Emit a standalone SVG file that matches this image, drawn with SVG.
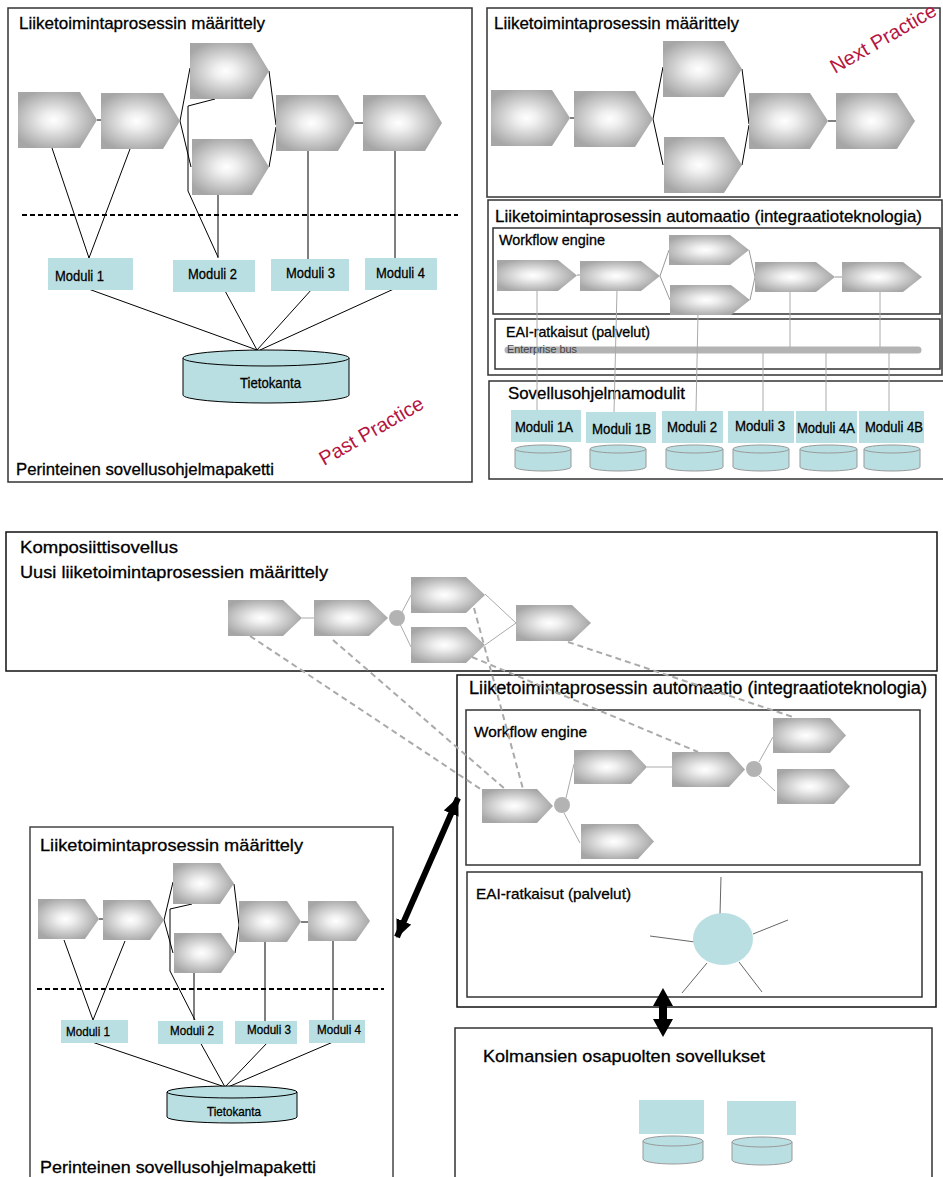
<svg xmlns="http://www.w3.org/2000/svg" width="943" height="1177" viewBox="0 0 943 1177">
<defs>
<radialGradient id="cg" cx="0.45" cy="0.5" r="0.55">
<stop offset="0" stop-color="#ffffff"/>
<stop offset="0.25" stop-color="#efefef"/>
<stop offset="1" stop-color="#a6a6a6"/>
</radialGradient>
<marker id="ah" viewBox="0 0 18 16" refX="17" refY="8" markerWidth="18" markerHeight="16" markerUnits="userSpaceOnUse" orient="auto-start-reverse">
<path d="M0,0 L18,8 L0,16 z" fill="#000"/>
</marker>
</defs>
<style>
.panel{fill:none;stroke:#333;stroke-width:1.5}
.chev{fill:url(#cg)}
.mod{fill:#B9DFE2}
.db{fill:#B9DFE2;stroke:#000;stroke-width:1}
.dbg{fill:#B9DFE2;stroke:#999;stroke-width:1}
.t{font-family:"Liberation Sans",Arial,sans-serif;fill:#000;stroke:#000;stroke-width:0.3}
.ln{stroke:#000;stroke-width:1;fill:none}
.gl{stroke:#999;stroke-width:1;fill:none}
.gl2{stroke:#aaa;stroke-width:1;fill:none}
.sp{stroke:#666;stroke-width:1;fill:none}
.dash{stroke:#aaa;stroke-width:2;stroke-dasharray:6 4;fill:none}
.bd{stroke:#000;stroke-width:2;stroke-dasharray:5 3;fill:none}
.red{font-family:"Liberation Sans",Arial,sans-serif;fill:#B5153F;font-size:20px}
.dot{fill:#b3b3b3}
</style>
<rect width="943" height="1177" fill="#fff"/>

<!-- ===== Top-left panel ===== -->
<g id="panel-past">
<rect class="panel" x="8" y="8" width="464" height="474"/>
<text class="t" x="19" y="29" font-size="17" textLength="246" lengthAdjust="spacingAndGlyphs">Liiketoimintaprosessin määrittely</text>
<text class="t" x="16" y="475" font-size="17" textLength="258" lengthAdjust="spacingAndGlyphs">Perinteinen sovellusohjelmapaketti</text>
<text class="red" x="324" y="466" transform="rotate(-30 324 466)" textLength="117" lengthAdjust="spacingAndGlyphs">Past Practice</text>
</g>
<g id="tl-connectors">
<line class="bd" x1="22" y1="215" x2="458" y2="215"/>
<line class="ln" x1="97" y1="120" x2="101" y2="120"/>
<line class="ln" x1="180" y1="121" x2="190" y2="68"/>
<line class="ln" x1="180" y1="121" x2="191" y2="167"/>
<line class="ln" x1="269" y1="71" x2="276" y2="125"/>
<line class="ln" x1="269" y1="167" x2="276" y2="127"/>
<line class="ln" x1="355" y1="123" x2="363" y2="123"/>
<polyline class="ln" points="215,99 188,106 188,191 218,257"/>
<line class="ln" x1="218" y1="195" x2="218" y2="258"/>
<line class="ln" x1="52" y1="148" x2="89" y2="258"/>
<line class="ln" x1="130" y1="149" x2="89" y2="258"/>
<line class="ln" x1="308" y1="151" x2="308" y2="259"/>
<line class="ln" x1="395" y1="151" x2="395" y2="258"/>
<line class="ln" x1="83" y1="287" x2="257" y2="350"/>
<line class="ln" x1="224" y1="289" x2="257" y2="350"/>
<line class="ln" x1="312" y1="289" x2="257" y2="350"/>
<line class="ln" x1="396" y1="288" x2="260" y2="350"/>
</g>
<g id="tl-chevrons">
<polygon class="chev" points="18,92 80,92 97,120 80,148 18,148"/>
<polygon class="chev" points="101,93 163,93 180,121 163,149 101,149"/>
<polygon class="chev" points="190,43 252,43 269,71 252,99 190,99"/>
<polygon class="chev" points="192,139 252,139 269,167 252,195 192,195"/>
<polygon class="chev" points="276,95 338,95 355,123 338,151 276,151"/>
<polygon class="chev" points="363,95 425,95 442,123 425,151 363,151"/>
</g>
<g id="tl-modules">
<rect class="mod" x="48" y="258" width="85" height="32"/>
<text class="t" x="55" y="281" font-size="15" textLength="49" lengthAdjust="spacingAndGlyphs">Moduli 1</text>
<rect class="mod" x="173" y="260" width="82" height="32"/>
<text class="t" x="188" y="279" font-size="15" textLength="49" lengthAdjust="spacingAndGlyphs">Moduli 2</text>
<rect class="mod" x="271" y="259" width="78" height="32"/>
<text class="t" x="286" y="278" font-size="15" textLength="49" lengthAdjust="spacingAndGlyphs">Moduli 3</text>
<rect class="mod" x="365" y="258" width="72" height="32"/>
<text class="t" x="376" y="278" font-size="15" textLength="49" lengthAdjust="spacingAndGlyphs">Moduli 4</text>
</g>
<g id="tl-db">
<path class="db" d="M183,358 L183,395 A83,8 0 0 0 349,395 L349,358"/>
<ellipse class="db" cx="266" cy="358" rx="83" ry="8"/>
<text class="t" x="240" y="388" font-size="15" textLength="61" lengthAdjust="spacingAndGlyphs">Tietokanta</text>
</g>

<!-- ===== Top-right: Next practice ===== -->
<g id="panel-next">
<rect class="panel" x="487" y="8" width="453" height="189"/>
<text class="t" x="494" y="29" font-size="17" textLength="245" lengthAdjust="spacingAndGlyphs">Liiketoimintaprosessin määrittely</text>
<text class="red" x="835" y="74" transform="rotate(-30 835 74)" textLength="119" lengthAdjust="spacingAndGlyphs">Next Practice</text>
</g>
<g id="tr-connectors">
<line class="ln" x1="570" y1="118" x2="574" y2="118"/>
<line class="ln" x1="653" y1="119" x2="663" y2="67"/>
<line class="ln" x1="653" y1="119" x2="663" y2="165"/>
<line class="ln" x1="742" y1="69" x2="749" y2="124"/>
<line class="ln" x1="742" y1="165" x2="749" y2="125"/>
<line class="ln" x1="828" y1="121" x2="836" y2="121"/>
</g>
<g id="tr-chevrons">
<polygon class="chev" points="491,90 552,90 570,118 552,146 491,146"/>
<polygon class="chev" points="574,91 635,91 653,119 635,147 574,147"/>
<polygon class="chev" points="663,41 724,41 742,69 724,97 663,97"/>
<polygon class="chev" points="664,137 724,137 742,165 724,193 664,193"/>
<polygon class="chev" points="749,93 810,93 828,121 810,149 749,149"/>
<polygon class="chev" points="836,93 897,93 915,121 897,149 836,149"/>
</g>

<!-- ===== Top-right: automation ===== -->
<g id="panel-automation-top">
<rect class="panel" x="488" y="200" width="454" height="175"/>
<text class="t" x="495" y="222" font-size="17" textLength="427" lengthAdjust="spacingAndGlyphs">Liiketoimintaprosessin automaatio (integraatioteknologia)</text>
</g>
<g id="workflow-top">
<rect class="panel" x="493" y="228" width="447" height="86"/>
<text class="t" x="499" y="245" font-size="14" textLength="106" lengthAdjust="spacingAndGlyphs">Workflow engine</text>
</g>
<g id="eai-top">
<rect class="panel" x="495" y="319" width="445" height="50"/>
<text class="t" x="506" y="337" font-size="15" textLength="144" lengthAdjust="spacingAndGlyphs">EAI-ratkaisut (palvelut)</text>
<line x1="508" y1="350" x2="918" y2="350" stroke="#b3b3b3" stroke-width="7" stroke-linecap="round"/>
<text x="507" y="353" font-family="Liberation Sans, Arial, sans-serif" font-size="11" fill="#444" textLength="70" lengthAdjust="spacingAndGlyphs">Enterprise bus</text>
</g>
<g id="sovellus-modules">
<rect class="panel" x="489" y="381" width="455" height="98"/>
<text class="t" x="508" y="399" font-size="17" textLength="177" lengthAdjust="spacingAndGlyphs">Sovellusohjelmamodulit</text>
</g>
<g id="wf-top-connectors">
<line class="gl" x1="577" y1="275" x2="580" y2="275"/>
<line class="gl" x1="660" y1="276" x2="669" y2="250"/>
<line class="gl" x1="660" y1="276" x2="670" y2="300"/>
<line class="gl" x1="749" y1="250" x2="755" y2="277"/>
<line class="gl" x1="750" y1="300" x2="755" y2="277"/>
<line class="gl" x1="835" y1="277" x2="842" y2="277"/>
<line class="gl2" x1="537" y1="290" x2="537" y2="410"/>
<line class="gl2" x1="617" y1="290" x2="614" y2="412"/>
<line class="gl2" x1="698" y1="314" x2="696" y2="411"/>
<line class="gl2" x1="790" y1="291" x2="790" y2="347"/>
<line class="gl2" x1="880" y1="291" x2="880" y2="347"/>
<line class="gl2" x1="763" y1="353" x2="763" y2="411"/>
<line class="gl2" x1="826" y1="353" x2="826" y2="411"/>
<line class="gl2" x1="889" y1="353" x2="889" y2="411"/>
</g>
<g id="wf-top-chevrons">
<polygon class="chev" points="497,260 558,260 577,275.5 558,291 497,291"/>
<polygon class="chev" points="580,261 641,261 660,276 641,291 580,291"/>
<polygon class="chev" points="669,235 730,235 749,250 730,265 669,265"/>
<polygon class="chev" points="670,285 731,285 750,300 731,315 670,315"/>
<polygon class="chev" points="755,262 816,262 835,277 816,292 755,292"/>
<polygon class="chev" points="842,262 903,262 922,277 903,292 842,292"/>
</g>
<g id="tr-modules">
<rect class="mod" x="511" y="410" width="70" height="32"/>
<text class="t" x="515" y="432" font-size="14" textLength="58" lengthAdjust="spacingAndGlyphs">Moduli 1A</text>
<rect class="mod" x="586" y="412" width="70" height="31"/>
<text class="t" x="592" y="434" font-size="14" textLength="59" lengthAdjust="spacingAndGlyphs">Moduli 1B</text>
<rect class="mod" x="662" y="411" width="61" height="32"/>
<text class="t" x="667" y="432" font-size="14" textLength="50" lengthAdjust="spacingAndGlyphs">Moduli 2</text>
<rect class="mod" x="728" y="411" width="66" height="32"/>
<text class="t" x="735" y="431" font-size="14" textLength="50" lengthAdjust="spacingAndGlyphs">Moduli 3</text>
<rect class="mod" x="796" y="411" width="61" height="32"/>
<text class="t" x="797" y="433" font-size="14" textLength="58" lengthAdjust="spacingAndGlyphs">Moduli 4A</text>
<rect class="mod" x="859" y="411" width="65" height="32"/>
<text class="t" x="865" y="432" font-size="14" textLength="58" lengthAdjust="spacingAndGlyphs">Moduli 4B</text>
</g>
<g id="tr-dbs">
<path class="dbg" d="M515,449 L515,467 A28,4 0 0 0 571,467 L571,449"/><ellipse class="dbg" cx="543" cy="449" rx="28" ry="4"/>
<path class="dbg" d="M590,449 L590,467 A28,4 0 0 0 646,467 L646,449"/><ellipse class="dbg" cx="618" cy="449" rx="28" ry="4"/>
<path class="dbg" d="M666,449 L666,467 A28.5,4 0 0 0 723,467 L723,449"/><ellipse class="dbg" cx="694.5" cy="449" rx="28.5" ry="4"/>
<path class="dbg" d="M733,449 L733,467 A28,4 0 0 0 789,467 L789,449"/><ellipse class="dbg" cx="761" cy="449" rx="28" ry="4"/>
<path class="dbg" d="M800,449 L800,467 A28.5,4 0 0 0 857,467 L857,449"/><ellipse class="dbg" cx="828.5" cy="449" rx="28.5" ry="4"/>
<path class="dbg" d="M864,449 L864,467 A28,4 0 0 0 920,467 L920,449"/><ellipse class="dbg" cx="892" cy="449" rx="28" ry="4"/>
</g>

<!-- ===== Composite application ===== -->
<g id="panel-composite">
<rect x="6" y="532" width="931" height="139" fill="none" stroke="#111" stroke-width="1.5"/>
<text class="t" x="20" y="553" font-size="17" textLength="158" lengthAdjust="spacingAndGlyphs">Komposiittisovellus</text>
<text class="t" x="20" y="578" font-size="17" textLength="308" lengthAdjust="spacingAndGlyphs">Uusi liiketoimintaprosessien määrittely</text>
</g>
<g id="panel-automation-bottom">
<rect x="457" y="675" width="479" height="332" fill="none" stroke="#111" stroke-width="1.5"/>
<text class="t" x="469" y="694" font-size="17.5" textLength="458" lengthAdjust="spacingAndGlyphs">Liiketoimintaprosessin automaatio (integraatioteknologia)</text>
</g>
<g id="workflow-bottom">
<rect class="panel" x="466" y="710" width="454" height="155"/>
<text class="t" x="474" y="737" font-size="15" textLength="113" lengthAdjust="spacingAndGlyphs">Workflow engine</text>
</g>
<g id="eai-bottom">
<rect class="panel" x="467" y="872" width="455" height="125"/>
<text class="t" x="476" y="899" font-size="15" textLength="155" lengthAdjust="spacingAndGlyphs">EAI-ratkaisut (palvelut)</text>
</g>
<g id="composite-connectors">
<line class="gl2" x1="302" y1="618" x2="314" y2="618"/>
<line class="gl2" x1="402" y1="612" x2="411" y2="595"/>
<line class="gl2" x1="400" y1="624" x2="411" y2="647"/>
<line class="gl2" x1="485" y1="594" x2="516" y2="623"/>
<line class="gl2" x1="485" y1="645" x2="516" y2="623"/>
<line class="gl2" x1="566" y1="798" x2="574" y2="764"/>
<line class="gl2" x1="564" y1="813" x2="580" y2="843"/>
<line class="gl2" x1="647" y1="767" x2="672" y2="767"/>
<line class="gl2" x1="759" y1="762" x2="773" y2="737"/>
<line class="gl2" x1="759" y1="776" x2="775" y2="791"/>
</g>
<g id="composite-chevrons">
<polygon class="chev" points="228,600 283,600 302,618 283,636 228,636"/>
<polygon class="chev" points="314,600 369,600 388,618 369,636 314,636"/>
<circle class="dot" cx="397" cy="618" r="8"/>
<polygon class="chev" points="411,577 466,577 485,595 466,613 411,613"/>
<polygon class="chev" points="411,627 466,627 485,645 466,663 411,663"/>
<polygon class="chev" points="516,605 572,605 591,623 572,641 516,641"/>
</g>
<g id="wf-bottom-chevrons">
<polygon class="chev" points="482,789 537,789 553,806 537,823 482,823"/>
<circle class="dot" cx="562" cy="805" r="8"/>
<polygon class="chev" points="574,750 631,750 647,767 631,784 574,784"/>
<polygon class="chev" points="672,752 729,752 745,769.5 729,787 672,787"/>
<circle class="dot" cx="754" cy="769" r="8"/>
<polygon class="chev" points="773,718 830,718 846,735.5 830,753 773,753"/>
<polygon class="chev" points="777,769 834,769 850,786.5 834,804 777,804"/>
<polygon class="chev" points="581,824 638,824 654,841.5 638,859 581,859"/>
</g>
<g id="mapping-connectors">
<line class="dash" x1="250" y1="636" x2="482" y2="790"/>
<line class="dash" x1="333" y1="640" x2="505" y2="789"/>
<line class="dash" x1="474" y1="608" x2="523" y2="789"/>
<line class="dash" x1="472" y1="657" x2="698" y2="752"/>
<line class="dash" x1="568" y1="642" x2="793" y2="717"/>
</g>
<g id="eai-hub">
<line class="sp" x1="721" y1="877" x2="720" y2="914"/>
<line class="sp" x1="753" y1="934" x2="788" y2="920"/>
<line class="sp" x1="650" y1="936" x2="695" y2="942"/>
<line class="sp" x1="707" y1="963" x2="682" y2="993"/>
<line class="sp" x1="739" y1="962" x2="762" y2="992"/>
<ellipse cx="723" cy="939" rx="30" ry="26" fill="#B9DFE2"/>
</g>

<!-- ===== Third party ===== -->
<g id="panel-third-party">
<rect class="panel" x="455" y="1028" width="477" height="160"/>
<text class="t" x="483" y="1062" font-size="17" textLength="282" lengthAdjust="spacingAndGlyphs">Kolmansien osapuolten sovellukset</text>
<rect class="mod" x="639" y="1100" width="65" height="34"/>
<rect class="mod" x="727" y="1101" width="69" height="34"/>
<path class="dbg" d="M643,1141 L643,1159 A30,5 0 0 0 703,1159 L703,1141"/><ellipse class="dbg" cx="673" cy="1141" rx="30" ry="5"/>
<path class="dbg" d="M732,1142 L732,1160 A30,5 0 0 0 792,1160 L792,1142"/><ellipse class="dbg" cx="762" cy="1142" rx="30" ry="5"/>
</g>

<!-- ===== Bottom-left legacy ===== -->
<g id="panel-legacy">
<rect x="30" y="827" width="363" height="360" fill="none" stroke="#444" stroke-width="1.5"/>
<text class="t" x="40" y="851" font-size="17" textLength="263" lengthAdjust="spacingAndGlyphs">Liiketoimintaprosessin määrittely</text>
<text class="t" x="40" y="1173" font-size="17" textLength="276" lengthAdjust="spacingAndGlyphs">Perinteinen sovellusohjelmapaketti</text>
</g>
<g id="bl-connectors">
<line class="bd" x1="37" y1="989" x2="384" y2="989"/>
<line class="ln" x1="99" y1="919" x2="103" y2="919"/>
<line class="ln" x1="164" y1="920" x2="173" y2="882"/>
<line class="ln" x1="164" y1="920" x2="173" y2="953"/>
<line class="ln" x1="234" y1="884" x2="239" y2="925"/>
<line class="ln" x1="235" y1="953" x2="239" y2="925"/>
<line class="ln" x1="301" y1="922" x2="308" y2="922"/>
<polyline class="ln" points="192,904 170,909 170,971 195,1020"/>
<line class="ln" x1="194" y1="973" x2="194" y2="1020"/>
<line class="ln" x1="64" y1="940" x2="93" y2="1020"/>
<line class="ln" x1="125" y1="941" x2="93" y2="1020"/>
<line class="ln" x1="265" y1="942" x2="265" y2="1021"/>
<line class="ln" x1="333" y1="941" x2="333" y2="1020"/>
<line class="ln" x1="89" y1="1041" x2="225" y2="1087"/>
<line class="ln" x1="200" y1="1042" x2="225" y2="1087"/>
<line class="ln" x1="268" y1="1042" x2="225" y2="1087"/>
<line class="ln" x1="333" y1="1042" x2="228" y2="1087"/>
</g>
<g id="bl-chevrons">
<polygon class="chev" points="38,899 85,899 99,919 85,939 38,939"/>
<polygon class="chev" points="103,900 150,900 164,920 150,940 103,940"/>
<polygon class="chev" points="173,863 220,863 234,883.5 220,904 173,904"/>
<polygon class="chev" points="174,933 221,933 235,953 221,973 174,973"/>
<polygon class="chev" points="239,901 287,901 301,921.5 287,942 239,942"/>
<polygon class="chev" points="308,901 356,901 370,921 356,941 308,941"/>
</g>
<g id="bl-modules">
<rect class="mod" x="61" y="1020" width="67" height="23"/>
<text class="t" x="66" y="1036" font-size="13" textLength="44" lengthAdjust="spacingAndGlyphs">Moduli 1</text>
<rect class="mod" x="158" y="1021" width="65" height="23"/>
<text class="t" x="170" y="1035" font-size="13" textLength="44" lengthAdjust="spacingAndGlyphs">Moduli 2</text>
<rect class="mod" x="235" y="1021" width="62" height="23"/>
<text class="t" x="247" y="1034" font-size="13" textLength="44" lengthAdjust="spacingAndGlyphs">Moduli 3</text>
<rect class="mod" x="309" y="1020" width="56" height="23"/>
<text class="t" x="317" y="1034" font-size="13" textLength="44" lengthAdjust="spacingAndGlyphs">Moduli 4</text>
</g>
<g id="bl-db">
<path class="db" d="M167,1092 L167,1117 A65,6 0 0 0 297,1117 L297,1092"/>
<ellipse class="db" cx="232" cy="1092" rx="65" ry="6"/>
<text class="t" x="207" y="1116" font-size="13" textLength="54" lengthAdjust="spacingAndGlyphs">Tietokanta</text>
</g>

<!-- ===== Big arrows ===== -->
<g id="arrows">
<line x1="458" y1="798" x2="397" y2="937" stroke="#000" stroke-width="6" marker-start="url(#ah)" marker-end="url(#ah)"/>
<polygon points="663,988 673,1006 667,1006 667,1019 673,1019 663,1037 653,1019 659,1019 659,1006 653,1006" fill="#000"/>
</g>
</svg>
